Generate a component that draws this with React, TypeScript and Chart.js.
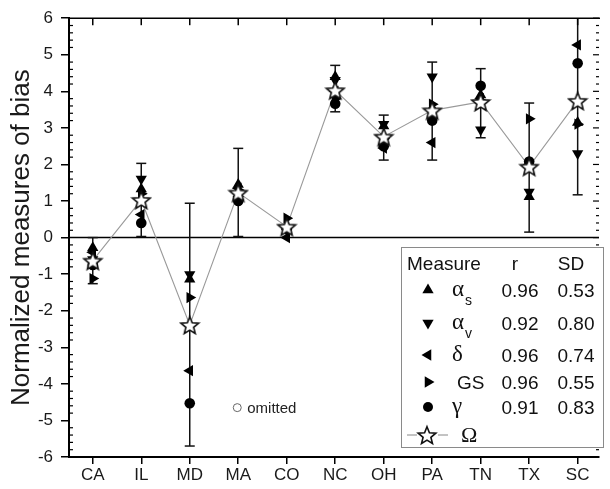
import React, { useEffect, useRef } from 'react';
import { Chart, registerables } from 'chart.js';
Chart.register(...registerables);

const categories = ['CA', 'IL', 'MD', 'MA', 'CO', 'NC', 'OH', 'PA', 'TN', 'TX', 'SC'];
const alphaS = [-0.28, 1.33, -1.14, 1.45, 0.3, 4.4, 3.05, 3.55, 3.9, 1.12, 3.15];
const alphaV = [-0.6, 1.6, -1.01, 1.05, 0.2, 4.3, 3.1, 4.4, 2.95, 1.25, 2.3];
const delta = [-0.4, 0.63, -3.64, 1.35, 0.0, 4.0, 2.45, 2.6, 3.8, 2.0, 5.27];
const gs = [-1.12, 1.2, -1.64, 1.3, 0.53, 3.8, 2.7, 3.65, 3.75, 3.25, 3.1];
const gamma = [-0.75, 0.4, -4.53, 1.0, 0.25, 3.66, 2.5, 3.2, 4.15, 2.08, 4.77];
const omega = [-0.63, 1.03, -2.39, 1.23, 0.3, 4.03, 2.76, 3.48, 3.71, 1.94, 3.74];
const errLow = [-1.26, 0.03, -5.7, 0.03, null, 3.44, 2.12, 2.12, 2.73, 0.15, 1.17];
const errHigh = [0.0, 2.03, 0.94, 2.44, null, 4.71, 3.35, 4.8, 4.62, 3.68, 6.31];
const yTicks = [-6, -5, -4, -3, -2, -1, 0, 1, 2, 3, 4, 5, 6];

const legendRows = [
  { sym: 'α', sub: 's', r: '0.96', sd: '0.53' },
  { sym: 'α', sub: 'v', r: '0.92', sd: '0.80' },
  { sym: 'δ', sub: '', r: '0.96', sd: '0.74' },
  { sym: 'GS', sub: '', r: '0.96', sd: '0.55' },
  { sym: 'γ', sub: '', r: '0.91', sd: '0.83' },
];
const omittedNote = { x: 3.98, y: -4.65, text: 'omitted' };

const SANS = '"Liberation Sans", Arial, Helvetica, sans-serif';
const SERIF = '"Liberation Serif", "Times New Roman", serif';

function makeStar(size: number, outer: number, inner: number) {
  const c = document.createElement('canvas');
  c.width = size;
  c.height = size;
  const ctx = c.getContext('2d')!;
  ctx.beginPath();
  for (let i = 0; i < 10; i++) {
    const r = i % 2 === 0 ? outer : inner;
    const a = -Math.PI / 2 + (i * Math.PI) / 5;
    const x = size / 2 + r * Math.cos(a);
    const y = size / 2 + 1 + r * Math.sin(a);
    if (i === 0) ctx.moveTo(x, y);
    else ctx.lineTo(x, y);
  }
  ctx.closePath();
  ctx.fillStyle = '#fff';
  ctx.fill();
  ctx.lineWidth = 1.6;
  ctx.lineJoin = 'miter';
  ctx.strokeStyle = '#111';
  ctx.stroke();
  return c;
}

const pts = (arr: number[]) => arr.map((v, i) => ({ x: i + 1, y: v }));

export default function App() {
  const ref = useRef<HTMLCanvasElement>(null);
  useEffect(() => {
    const star = makeStar(22, 9.3, 4.1);
    const drawTri = (ctx: CanvasRenderingContext2D, x: number, y: number, rot: number, r: number) => {
      ctx.save();
      ctx.translate(x, y);
      ctx.rotate((rot * Math.PI) / 180);
      ctx.beginPath();
      for (let k = 0; k < 3; k++) {
        const a = (k * 2 * Math.PI) / 3;
        ctx.lineTo(Math.sin(a) * r, -Math.cos(a) * r);
      }
      ctx.closePath();
      ctx.fill();
      ctx.restore();
    };
    const plugin = {
      id: 'custom',
      beforeDatasetsDraw(chart: any) {
        const { ctx, chartArea: a, scales } = chart;
        const xs = scales.x, ys = scales.y;
        ctx.save();
        const y0 = ys.getPixelForValue(0);
        ctx.strokeStyle = '#000';
        ctx.lineWidth = 1.5;
        ctx.beginPath();
        ctx.moveTo(a.left, y0);
        ctx.lineTo(a.right, y0);
        ctx.stroke();
        ctx.lineWidth = 1.5;
        ctx.strokeStyle = '#111';
        for (let i = 0; i < categories.length; i++) {
          const lo = errLow[i], hi = errHigh[i];
          if (lo == null || hi == null) continue;
          const x = xs.getPixelForValue(i + 1);
          const y1 = ys.getPixelForValue(lo);
          const y2 = ys.getPixelForValue(hi);
          ctx.beginPath();
          ctx.moveTo(x, Math.min(y1, a.bottom));
          ctx.lineTo(x, Math.max(y2, a.top));
          ctx.stroke();
          for (const yy of [y1, y2]) {
            if (yy < a.top || yy > a.bottom) continue;
            ctx.beginPath();
            ctx.moveTo(x - 5, yy);
            ctx.lineTo(x + 5, yy);
            ctx.stroke();
          }
        }
        ctx.restore();
      },
      afterDraw(chart: any) {
        const { ctx, chartArea: a, scales } = chart;
        const xs = scales.x, ys = scales.y;
        ctx.save();
        ctx.strokeStyle = '#000';
        ctx.lineWidth = 1.5;
        ctx.beginPath();
        ctx.moveTo(a.left, a.top);
        ctx.lineTo(a.right + 1, a.top);
        ctx.stroke();
        for (let i = 0; i < categories.length; i++) {
          const x = xs.getPixelForValue(i + 1);
          ctx.beginPath();
          ctx.moveTo(x, a.top);
          ctx.lineTo(x, a.top + 7);
          ctx.stroke();
        }
        ctx.lineWidth = 1.2;
        for (let k = -30; k <= 30; k++) {
          const v = k / 5;
          const y = ys.getPixelForValue(v);
          const major = k % 5 === 0;
          if (!major) {
            ctx.beginPath();
            ctx.moveTo(a.left, y);
            ctx.lineTo(a.left + 4, y);
            ctx.stroke();
          }
          ctx.beginPath();
          ctx.moveTo(a.right, y);
          ctx.lineTo(a.right - (major ? 6 : 3), y);
          ctx.stroke();
        }
        ctx.save();
        ctx.translate(22, (a.top + a.bottom) / 2);
        ctx.rotate(-Math.PI / 2);
        ctx.fillStyle = '#1a1a1a';
        ctx.font = `26px ${SANS}`;
        ctx.textAlign = 'center';
        ctx.textBaseline = 'middle';
        ctx.fillText('Normalized measures of bias', 0, 0);
        ctx.restore();
        const ox = xs.getPixelForValue(omittedNote.x);
        const oy = ys.getPixelForValue(omittedNote.y);
        ctx.strokeStyle = '#666';
        ctx.lineWidth = 1;
        ctx.beginPath();
        ctx.arc(ox, oy, 4, 0, Math.PI * 2);
        ctx.stroke();
        ctx.fillStyle = '#222';
        ctx.font = `15px ${SANS}`;
        ctx.textAlign = 'left';
        ctx.textBaseline = 'middle';
        ctx.fillText(omittedNote.text, ox + 10, oy + 1);
        const bx = 401, by = 247, bw = 202, bh = 200;
        ctx.fillStyle = '#fff';
        ctx.fillRect(bx, by, bw, bh);
        ctx.strokeStyle = '#8a8a8a';
        ctx.lineWidth = 1;
        ctx.strokeRect(bx + 0.5, by + 0.5, bw, bh);
        ctx.fillStyle = '#111';
        ctx.font = `19px ${SANS}`;
        ctx.textBaseline = 'alphabetic';
        ctx.textAlign = 'left';
        ctx.fillText('Measure', 407, 270);
        ctx.textAlign = 'center';
        ctx.fillText('r', 515, 270);
        ctx.fillText('SD', 571, 270);
        const rowY = [290, 323, 355, 382, 407];
        const markers = [0, 180, 270, 90, -1];
        legendRows.forEach((row, i) => {
          const y = rowY[i];
          ctx.fillStyle = '#000';
          if (markers[i] >= 0) drawTri(ctx, 428, y, markers[i], 6.5);
          else {
            ctx.beginPath();
            ctx.arc(428, y, 5, 0, Math.PI * 2);
            ctx.fill();
          }
          ctx.fillStyle = '#111';
          ctx.textAlign = 'left';
          if (row.sym === 'GS') {
            ctx.font = `19px ${SANS}`;
            ctx.fillText('GS', 457, y + 7);
          } else {
            ctx.font = `23px ${SERIF}`;
            ctx.fillText(row.sym, 452, y + 6);
            if (row.sub) {
              ctx.font = `14px ${SANS}`;
              ctx.fillText(row.sub, 465, y + 15);
            }
          }
          ctx.font = `19px ${SANS}`;
          ctx.textAlign = 'center';
          ctx.fillText(row.r, 520, y + 7);
          ctx.fillText(row.sd, 576, y + 7);
        });
        ctx.strokeStyle = '#888';
        ctx.lineWidth = 1;
        ctx.beginPath();
        ctx.moveTo(407, 435);
        ctx.lineTo(417, 435);
        ctx.moveTo(438, 435);
        ctx.lineTo(448, 435);
        ctx.stroke();
        ctx.drawImage(star, 427 - 11, 435 - 11);
        ctx.fillStyle = '#111';
        ctx.font = `22px ${SERIF}`;
        ctx.textAlign = 'left';
        ctx.fillText('Ω', 461, 442);
        ctx.restore();
      },
    };

    const mk = (label: string, arr: number[], style: any, rotation: number, radius: number) => ({
      label,
      data: pts(arr),
      pointStyle: style,
      rotation,
      pointRadius: radius,
      pointHoverRadius: radius,
      backgroundColor: '#000',
      borderColor: '#000',
      borderWidth: 0,
      showLine: false,
      order: 2,
    });

    const chart = new Chart(ref.current!, {
      type: 'scatter',
      data: {
        datasets: [
          {
            label: 'Ωline',
            data: pts(omega),
            showLine: true,
            borderColor: '#9a9a9a',
            borderWidth: 1.1,
            pointRadius: 0,
            order: 5,
          },
          mk('γ', gamma, 'circle', 0, 5.3),
          mk('GS', gs, 'triangle', 90, 6.5),
          mk('δ', delta, 'triangle', 270, 6.5),
          mk('αv', alphaV, 'triangle', 180, 6.5),
          mk('αs', alphaS, 'triangle', 0, 6.5),
          {
            label: 'Ω',
            data: pts(omega),
            showLine: false,
            pointStyle: star as any,
            pointRadius: 10,
            order: 0,
          },
        ] as any,
      },
      options: {
        responsive: false,
        animation: false,
        devicePixelRatio: 1,
        layout: { padding: { top: 16, right: 1, left: 0, bottom: 0 } },
        plugins: { legend: { display: false }, tooltip: { enabled: false } },
        events: [],
        scales: {
          x: {
            type: 'linear',
            min: 0.51,
            max: 11.44,
            afterBuildTicks: (s: any) => {
              s.ticks = categories.map((_, i) => ({ value: i + 1 }));
            },
            afterFit: (s: any) => {
              s.height = 32;
            },
            ticks: {
              callback: (v: any) => categories[Math.round(v) - 1] ?? '',
              font: { family: SANS, size: 17 },
              color: '#1a1a1a',
              padding: 1,
              maxRotation: 0,
              autoSkip: false,
            },
            grid: { display: true, drawOnChartArea: false, drawTicks: true, tickLength: 7, color: '#000', lineWidth: 1.5 },
            border: { display: true, color: '#000', width: 2 },
          },
          y: {
            type: 'linear',
            min: -6,
            max: 6,
            afterBuildTicks: (s: any) => {
              s.ticks = yTicks.map((v) => ({ value: v }));
            },
            afterFit: (s: any) => {
              s.width = 69;
            },
            ticks: {
              font: { family: SANS, size: 17 },
              color: '#1a1a1a',
              padding: 8,
            },
            grid: { display: true, drawOnChartArea: false, drawTicks: true, tickLength: 8, color: '#000', lineWidth: 1.5 },
            border: { display: true, color: '#000', width: 2 },
          },
        },
      },
      plugins: [plugin],
    });
    return () => chart.destroy();
  }, []);

  return (
    <div style={{ position: 'fixed', left: 0, top: 0, width: 610, height: 489, background: '#fff' }}>
      <canvas ref={ref} width={610} height={489} style={{ display: 'block', width: 610, height: 489 }} />
    </div>
  );
}
